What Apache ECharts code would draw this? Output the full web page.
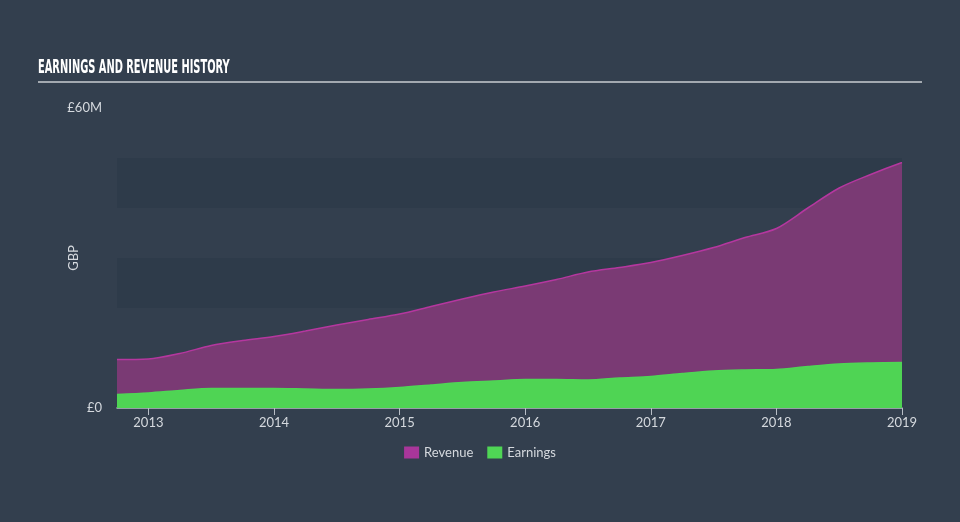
<!DOCTYPE html>
<html>
<head>
<meta charset="utf-8">
<script src="https://cdn.jsdelivr.net/npm/echarts@6/dist/echarts.min.js"></script>
<style>
html,body{margin:0;padding:0;background:#333f4e;}
#c{width:960px;height:522px;}
</style>
</head>
<body>
<div id="c"></div>
<script>
const periods = [2012.75,2013.0,2013.25,2013.5,2013.75,2014.0,2014.25,2014.5,2014.75,2015.0,2015.25,2015.5,2015.75,2016.0,2016.25,2016.5,2016.75,2017.0,2017.25,2017.5,2017.75,2018.0,2018.25,2018.5,2018.75,2019.0];
const revenueM = [9.7,9.8,10.9,12.5,13.5,14.3,15.4,16.6,17.7,18.8,20.3,21.8,23.2,24.4,25.7,27.2,28.1,29.1,30.5,32.1,34.1,35.9,40.0,44.0,46.7,49.1];
const earningsM = [2.7,3.0,3.5,3.9,3.9,3.9,3.8,3.7,3.8,4.1,4.6,5.1,5.4,5.7,5.7,5.6,6.0,6.3,6.9,7.4,7.6,7.7,8.3,8.8,9.0,9.1];
const yearTicks = [2013,2014,2015,2016,2017,2018,2019];
const yTickLabels = {0:'£0', 60000000:'£60M'};
const titleText = 'EARNINGS AND REVENUE HISTORY';

const revData = periods.map((p,i)=>[p, revenueM[i]*1e6]);
const earnData = periods.map((p,i)=>[p, earningsM[i]*1e6]);

const chart = echarts.init(document.getElementById('c'), null, {renderer:'canvas'});
chart.setOption({
  backgroundColor:'#333f4e',
  animation:false,
  graphic:[
    {
      type:'text', x:38, y:58, scaleX:0.493,
      style:{text:titleText, fill:'#ffffff', font:'bold 20px "DejaVu Sans"', textVerticalAlign:'top'}
    },
    {
      type:'rect', shape:{x:38,y:81,width:884,height:2}, style:{fill:'#a3a9b0'}
    }
  ],
  legend:{
    data:['Revenue','Earnings'],
    bottom:58, left:'center',
    itemWidth:15, itemHeight:12, itemGap:14,
    icon:'rect',
    textStyle:{color:'#d5d9de', fontFamily:'Lato', fontSize:13}
  },
  grid:{left:117, right:58, top:108, bottom:114},
  xAxis:{
    type:'value', min:2012.75, max:2019.0,
    axisLine:{show:true, lineStyle:{color:'#b8bec6', width:1.5}},
    axisTick:{show:true, customValues:yearTicks, length:7, lineStyle:{color:'#b8bec6'}},
    axisLabel:{customValues:yearTicks, color:'#d5d9de', fontFamily:'Lato', fontSize:13, margin:8, formatter:v=>String(Math.round(v))},
    splitLine:{show:false}
  },
  yAxis:{
    type:'value', min:0, max:60000000, interval:60000000,
    name:'GBP', nameLocation:'middle', nameRotate:90, nameGap:37, nameMoveOverlap:false,
    nameTextStyle:{color:'#d5d9de', fontFamily:'Lato', fontSize:13},
    axisLine:{show:false}, axisTick:{show:false},
    axisLabel:{color:'#d5d9de', fontFamily:'Lato', fontSize:13, margin:15, formatter:v=>yTickLabels[v]||''},
    splitLine:{show:false}
  },
  series:[
    {
      name:'bands', type:'line', data:[], silent:true, z:0,
      markArea:{silent:true, itemStyle:{color:'#2e3b4a'},
        data:[[{yAxis:20000000},{yAxis:30000000}],[{yAxis:40000000},{yAxis:50000000}]]}
    },
    {
      name:'Revenue', type:'line', data:revData, smooth:0.3, showSymbol:false, z:2,
      lineStyle:{color:'#b5379f', width:1.5},
      itemStyle:{color:'#a8369a'},
      areaStyle:{color:'#7a3a74', opacity:1}
    },
    {
      name:'Earnings', type:'line', data:earnData, smooth:0.3, showSymbol:false, z:3,
      lineStyle:{color:'#4fd655', width:1.5},
      itemStyle:{color:'#4fd655'},
      areaStyle:{color:'#4fd454', opacity:1}
    }
  ]
});
</script>
</body>
</html>
